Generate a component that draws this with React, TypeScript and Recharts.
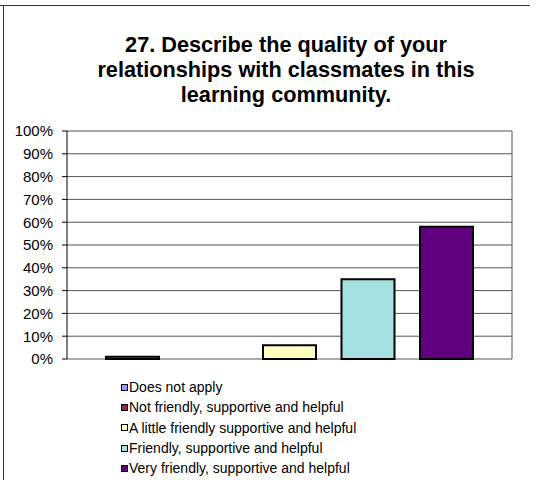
import React from 'react';
import { BarChart, Bar, XAxis, YAxis, CartesianGrid, Legend } from 'recharts';

const title = ['27. Describe the quality of your', 'relationships with classmates in this', 'learning community.'];
const seriesNames = [
  'Does not apply',
  'Not friendly, supportive and helpful',
  'A little friendly supportive and helpful',
  'Friendly, supportive and helpful',
  'Very friendly, supportive and helpful',
];
const seriesValues = [1, 0, 6, 35, 58];
const seriesColors = ['#9999FF', '#8B2A5A', '#FFFFC0', '#A6E1E1', '#600080'];
const yTicks = [0, 10, 20, 30, 40, 50, 60, 70, 80, 90, 100];

const row: Record<string, string | number> = { name: 'Q27' };
seriesNames.forEach((n, i) => {
  row['s' + i] = seriesValues[i];
});
const data = [row];

const FONT = '"Liberation Sans", Arial, Helvetica, sans-serif';

const LegendContent = () => (
  <div style={{ fontFamily: FONT, fontSize: 14, color: '#000' }}>
    {seriesNames.map((n, i) => (
      <div key={n} style={{ display: 'flex', alignItems: 'center', height: 20.3, whiteSpace: 'nowrap' }}>
        <span
          style={{
            display: 'inline-block',
            width: 5,
            height: 5,
            background: seriesColors[i],
            border: '1.5px solid #000',
            marginRight: 1,
          }}
        />
        <span>{n}</span>
      </div>
    ))}
  </div>
);

export default function App() {
  return (
    <div style={{ position: 'absolute', left: 0, top: 0, width: 539, height: 480, background: '#fff' }}>
      <div style={{ position: 'absolute', left: 0, top: 5, width: 530, borderTop: '1.5px solid #333' }} />
      <div style={{ position: 'absolute', left: 3, top: 6, height: 474, borderLeft: '1.5px solid #333' }} />
      <div
        style={{
          position: 'absolute',
          left: 36,
          width: 500,
          top: 32,
          textAlign: 'center',
          fontFamily: FONT,
          fontWeight: 'bold',
          fontSize: 21.7,
          lineHeight: '25px',
          color: '#000',
        }}
      >
        {title.map((t) => (
          <div key={t}>{t}</div>
        ))}
      </div>
      <div style={{ position: 'absolute', left: 0, top: 0 }}>
        <BarChart
          width={539}
          height={480}
          data={data}
          margin={{ top: 131, right: 27, bottom: 121, left: 0 }}
          barCategoryGap={39}
          barGap={25.5}
        >
          <CartesianGrid
            stroke="#555"
            strokeWidth={1}
            vertical={true}
            verticalCoordinatesGenerator={(p: any) => [p.offset.left + p.offset.width]}
          />
          <XAxis dataKey="name" tick={false} tickLine={false} height={0} axisLine={{ stroke: '#000' }} />
          <YAxis
            domain={[0, 100]}
            ticks={yTicks}
            interval={0}
            width={67}
            tickSize={5}
            tickMargin={9}
            tickFormatter={(v: number) => v + '%'}
            axisLine={{ stroke: '#000' }}
            tickLine={{ stroke: '#000' }}
            tick={{ fill: '#000', fontSize: 15, fontFamily: FONT }}
          />
          <Legend
            layout="vertical"
            align="center"
            verticalAlign="middle"
            content={<LegendContent />}
            wrapperStyle={{ left: 121, top: 377, width: 'auto' }}
          />
          {seriesNames.map((n, i) => (
            <Bar
              key={n}
              dataKey={'s' + i}
              name={n}
              fill={seriesColors[i]}
              stroke="#000"
              strokeWidth={2}
              isAnimationActive={false}
            />
          ))}
        </BarChart>
      </div>
    </div>
  );
}
